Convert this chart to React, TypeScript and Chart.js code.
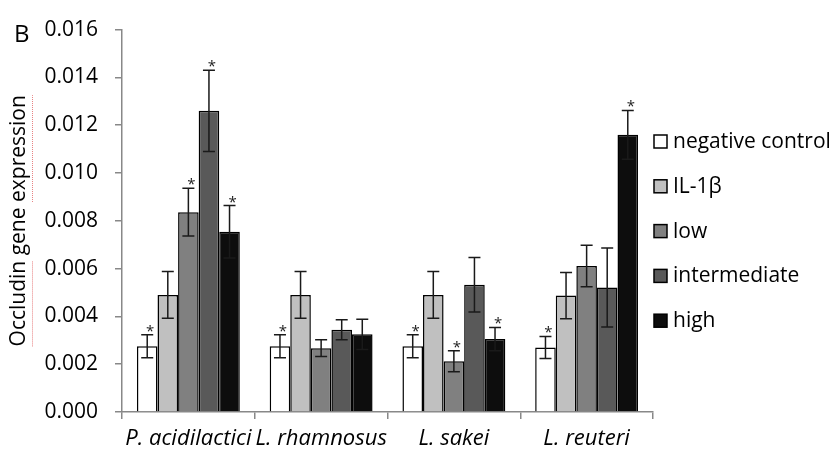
import React, { useEffect, useRef } from "react";
import { Chart, registerables } from "chart.js";

Chart.register(...registerables);

const categories = ["P. acidilactici", "L. rhamnosus", "L. sakei", "L. reuteri"];
const seriesLabels = ["negative control", "IL-1β", "low", "intermediate", "high"];

const negativeControl = [0.00275, 0.00275, 0.00275, 0.0027];
const il1b = [0.0049, 0.0049, 0.0049, 0.00487];
const low = [0.00836, 0.00267, 0.00212, 0.00611];
const intermediate = [0.0126, 0.00344, 0.00532, 0.00521];
const high = [0.00754, 0.00325, 0.00305, 0.0116];

const negativeControlErr = [0.00048, 0.00048, 0.00048, 0.00046];
const il1bErr = [0.00098, 0.00098, 0.00098, 0.00097];
const lowErr = [0.001, 0.00035, 0.00044, 0.00087];
const intermediateErr = [0.0017, 0.00042, 0.00114, 0.00165];
const highErr = [0.0011, 0.00063, 0.00049, 0.00102];

const negativeControlSig = [true, true, true, true];
const il1bSig = [false, false, false, false];
const lowSig = [true, false, true, false];
const intermediateSig = [true, false, false, false];
const highSig = [true, false, true, true];

const yTicks = [0, 0.002, 0.004, 0.006, 0.008, 0.01, 0.012, 0.014, 0.016];

const seriesValues = [negativeControl, il1b, low, intermediate, high];
const seriesErrors = [negativeControlErr, il1bErr, lowErr, intermediateErr, highErr];
const seriesSig = [negativeControlSig, il1bSig, lowSig, intermediateSig, highSig];
const seriesColors = ["#ffffff", "#c0c0c0", "#808080", "#595959", "#0d0d0d"];

const FONT = "'Open Sans', sans-serif";
const TITLE = "Occludin gene expression";

const overlayPlugin = {
  id: "overlay",
  afterDatasetsDraw(chart: any) {
    const ctx = chart.ctx;
    const yScale = chart.scales.y;
    ctx.save();
    seriesValues.forEach((vals, i) => {
      const meta = chart.getDatasetMeta(i);
      vals.forEach((v, j) => {
        const bar = meta.data[j];
        const x = bar.x;
        const yTop = yScale.getPixelForValue(v + seriesErrors[i][j]);
        const yBot = yScale.getPixelForValue(v - seriesErrors[i][j]);
        ctx.strokeStyle = "#1a1a1a";
        ctx.lineWidth = 1.5;
        ctx.beginPath();
        ctx.moveTo(x, yTop);
        ctx.lineTo(x, yBot);
        ctx.moveTo(x - 6, yTop);
        ctx.lineTo(x + 6, yTop);
        ctx.moveTo(x - 6, yBot);
        ctx.lineTo(x + 6, yBot);
        ctx.stroke();
        if (seriesSig[i][j]) {
          ctx.fillStyle = "#222";
          ctx.font = `15px ${FONT}`;
          ctx.textAlign = "center";
          ctx.textBaseline = "alphabetic";
          ctx.fillText("*", x + 3, yTop + 1);
        }
      });
    });
    ctx.restore();
  },
  afterDraw(chart: any) {
    const ctx = chart.ctx;
    const area = chart.chartArea;
    ctx.save();
    ctx.fillStyle = "#000";
    ctx.font = `24px ${FONT}`;
    ctx.textAlign = "left";
    ctx.textBaseline = "alphabetic";
    ctx.fillText("B", 14, 42);
    ctx.font = `21px ${FONT}`;
    ctx.textBaseline = "middle";
    seriesLabels.forEach((lab, i) => {
      const cy = 142 + i * 44.8;
      const bx = area.right + 1;
      ctx.fillStyle = seriesColors[i];
      ctx.fillRect(bx, cy - 7, 13, 13);
      ctx.strokeStyle = "#000";
      ctx.lineWidth = 1.5;
      ctx.strokeRect(bx, cy - 7, 13, 13);
      ctx.fillStyle = "#000";
      ctx.fillText(lab, bx + 19, cy);
    });
    ctx.font = `21px ${FONT}`;
    const total = ctx.measureText(TITLE).width;
    const midY = (area.top + area.bottom) / 2;
    const start = midY + total / 2;
    const w1 = ctx.measureText("Occludin").width;
    const w2 = ctx.measureText("Occludin gene ").width;
    ctx.strokeStyle = "#e88080";
    ctx.lineWidth = 1;
    ctx.setLineDash([1, 1]);
    ctx.beginPath();
    ctx.moveTo(32.5, start);
    ctx.lineTo(32.5, start - w1);
    ctx.moveTo(32.5, start - w2);
    ctx.lineTo(32.5, start - total);
    ctx.stroke();
    ctx.restore();
  },
};

export default function App() {
  const ref = useRef<HTMLCanvasElement>(null);
  useEffect(() => {
    if (!ref.current) return;
    const chart = new Chart(ref.current, {
      type: "bar",
      data: {
        labels: categories,
        datasets: seriesValues.map((vals, i) => ({
          label: seriesLabels[i],
          data: vals,
          backgroundColor: seriesColors[i],
          borderColor: "#000",
          borderWidth: 1.5,
          categoryPercentage: 0.775,
          barPercentage: 1,
        })),
      },
      options: {
        responsive: false,
        animation: false,
        layout: { padding: { left: 0, right: 179, top: 20, bottom: 0 } },
        plugins: {
          legend: { display: false },
          tooltip: { enabled: false },
        },
        scales: {
          x: {
            afterFit: (s: any) => {
              s.height = 47;
            },
            border: { color: "#888", width: 1.5 },
            grid: {
              drawOnChartArea: false,
              drawTicks: true,
              tickLength: 7,
              color: "#888",
              lineWidth: 1.5,
              offset: true,
            },
            ticks: {
              color: "#000",
              padding: 7,
              font: { family: FONT, size: 22, style: "italic" },
              maxRotation: 0,
              autoSkip: false,
            },
          },
          y: {
            min: 0,
            max: 0.016,
            afterFit: (s: any) => {
              s.width = 122;
            },
            afterBuildTicks: (s: any) => {
              s.ticks = yTicks.map((v) => ({ value: v }));
            },
            border: { color: "#888", width: 1.5 },
            grid: {
              drawOnChartArea: false,
              drawTicks: true,
              tickLength: 7,
              color: "#888",
              lineWidth: 1.5,
            },
            title: {
              display: true,
              text: TITLE,
              color: "#000",
              font: { family: FONT, size: 21 },
              padding: { top: 6, bottom: 0 },
            },
            ticks: {
              color: "#000",
              padding: 17,
              font: { family: FONT, size: 21 },
              callback: (v: any) => Number(v).toFixed(3),
            },
          },
        },
      },
      plugins: [overlayPlugin],
    });
    return () => chart.destroy();
  }, []);
  return (
    <div style={{ position: "fixed", left: 0, top: 0, width: 832, height: 459, background: "#fff" }}>
      <canvas ref={ref} width={832} height={459} />
    </div>
  );
}
